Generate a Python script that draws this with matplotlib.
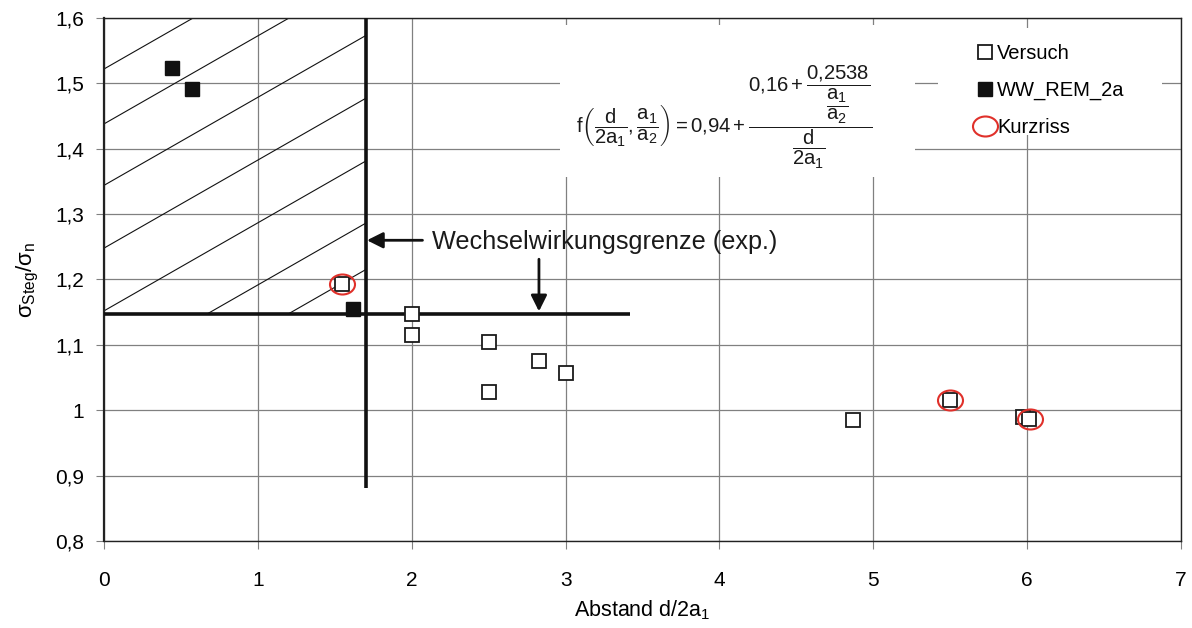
import numpy as np
import matplotlib
matplotlib.use("Agg")
import matplotlib.pyplot as plt
from matplotlib.patches import Rectangle
from matplotlib.path import Path
from matplotlib.transforms import Affine2D
from matplotlib.ticker import FuncFormatter, MultipleLocator

plt.rcParams["font.family"] = ["Liberation Sans", "DejaVu Sans"]
plt.rcParams["mathtext.fontset"] = "custom"
plt.rcParams["mathtext.rm"] = "Liberation Sans"
plt.rcParams["mathtext.it"] = "Liberation Sans"
plt.rcParams["mathtext.default"] = "regular"

# Versuch (offene Quadrate)
versuch_x = [1.55, 2.0, 2.0, 2.5, 2.5, 2.83, 3.0, 4.87, 5.5, 5.97, 6.01]
versuch_y = [1.193, 1.147, 1.115, 1.105, 1.028, 1.076, 1.057, 0.985, 1.015, 0.989, 0.986]

# WW_REM_2a (gefuellte Quadrate)
rem_x = [0.44, 0.57, 1.62]
rem_y = [1.523, 1.492, 1.155]

# Kurzriss (rote Ellipsen)
kurz_x = [1.55, 5.5, 6.02]
kurz_y = [1.193, 1.015, 0.987]

# Wechselwirkungsgrenze
grenze_x = 1.7
grenze_y = 1.147
grenze_x_end = 3.42
grenze_y_end = 0.881

# Schraffur: Achsenabschnitte bei x=0 und Steigung
hatch_y0 = [1.522, 1.438, 1.344, 1.248, 1.152, 1.057, 0.986]
hatch_slope = 0.1347

fig = plt.figure(figsize=(11.92, 6.28), dpi=100)
ax = fig.add_axes([104 / 1192, 1 - 541 / 628, 1077 / 1192, 523 / 628])

ax.set_xlim(0, 7)
ax.set_ylim(0.8, 1.6)
ax.xaxis.set_major_locator(MultipleLocator(1))
ax.yaxis.set_major_locator(MultipleLocator(0.1))
ax.yaxis.set_major_formatter(FuncFormatter(lambda v, p: ("%g" % round(v, 2)).replace(".", ",")))
ax.set_axisbelow(True)
ax.grid(True, color="#808080", lw=0.9)
ax.tick_params(direction="out", length=5.5, color="#808080", labelsize=15)
ax.tick_params(axis="x", pad=16)
ax.tick_params(axis="y", pad=9)
for s in ax.spines.values():
    s.set_color("#222222")
    s.set_linewidth(1.0)
ax.spines["left"].set_linewidth(1.6)

# weisse Hintergruende fuer Formel und Legende
ax.add_patch(Rectangle((0.4234, 0.696), 0.33, 0.29, transform=ax.transAxes,
                       facecolor="white", edgecolor="none", zorder=1))
ax.add_patch(Rectangle((0.774, 0.776), 0.208, 0.205, transform=ax.transAxes,
                       facecolor="white", edgecolor="none", zorder=1))

# Schraffur
clip = Rectangle((0, grenze_y), grenze_x, 1.6 - grenze_y, transform=ax.transData,
                 facecolor="none", edgecolor="none")
ax.add_patch(clip)
xs = np.array([0, grenze_x])
for y0 in hatch_y0:
    ln, = ax.plot(xs, y0 + hatch_slope * xs, color="#111111", lw=0.8, zorder=2)
    ln.set_clip_path(clip)

# dicke Grenzlinien
ax.plot([grenze_x, grenze_x], [1.6, grenze_y_end], color="#111111", lw=2.6,
        zorder=3, clip_on=False, solid_capstyle="butt")
ax.plot([0, grenze_x_end], [grenze_y, grenze_y], color="#111111", lw=2.6,
        zorder=3, solid_capstyle="butt")

# Pfeile und Text
ax.annotate("", xy=(grenze_x, 1.26), xytext=(2.07, 1.26),
            arrowprops=dict(arrowstyle="-|>", color="#111111", lw=2,
                            mutation_scale=24, shrinkA=0, shrinkB=1), zorder=4)
ax.annotate("", xy=(2.827, grenze_y), xytext=(2.827, 1.231),
            arrowprops=dict(arrowstyle="-|>", color="#111111", lw=2,
                            mutation_scale=24, shrinkA=0, shrinkB=2), zorder=4)
ax.text(2.13, 1.258, "Wechselwirkungsgrenze (exp.)", fontsize=18.2,
        color="#1a1a1a", ha="left", va="center", zorder=4)

# Formel
formel = (r"$f\left(\dfrac{d}{2a_1},\dfrac{a_1}{a_2}\right)=0{,}94+"
          r"\dfrac{0{,}16+\dfrac{0{,}2538}{\dfrac{a_1}{a_2}}}{\dfrac{d}{2a_1}}$")
ax.text(4.03, 1.448, formel, fontsize=14.6, ha="center", va="center", zorder=4,
        color="#1a1a1a")

# Datenpunkte
ax.plot(versuch_x, versuch_y, ls="none", marker="s", ms=9.5, mfc="white",
        mec="#1a1a1a", mew=1.3, zorder=5, label="Versuch")
ax.plot(rem_x, rem_y, ls="none", marker="s", ms=10, mfc="#111111",
        mec="#111111", zorder=5, label="WW_REM_2a")
ell = Path.unit_circle().transformed(Affine2D().scale(1.25, 1.0))
ax.plot(kurz_x, kurz_y, ls="none", marker=ell, ms=18, mfc="none",
        mec="#e0302a", mew=1.5, zorder=6, label="Kurzriss")

ax.legend(loc="upper left", bbox_to_anchor=(0.803, 0.966), frameon=False,
          fontsize=14.5, handlelength=0.8, handletextpad=0.2, labelspacing=0.9,
          borderaxespad=0)

ax.set_xlabel(r"Abstand d/2a$_1$", fontsize=15.5, labelpad=6)
ax.set_ylabel(r"$\sigma_{Steg}/\sigma_n$", fontsize=16, labelpad=10)

fig.savefig("out.png", dpi=100)
